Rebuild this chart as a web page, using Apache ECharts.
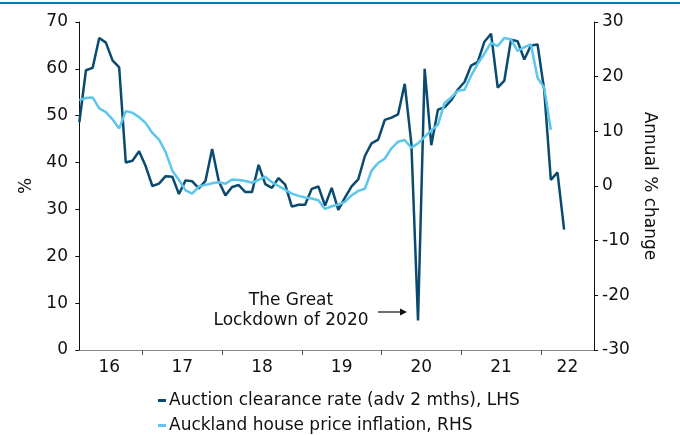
<!DOCTYPE html>
<html>
<head>
<meta charset="utf-8">
<style>
  html, body { margin: 0; padding: 0; background: #fff; }
  #chart { width: 680px; height: 435px; }
</style>
<script src="https://cdn.jsdelivr.net/npm/echarts@6/dist/echarts.min.js"></script>
</head>
<body>
<div id="chart"></div>
<script>
// monthly, first point = Mar 2016 (index 0)
const clearanceRate = [
  48.6, 59.7, 60.2, 66.6, 65.6, 61.8, 60.3, 40.0, 40.4, 42.4,
  39.2, 35.0, 35.5, 37.1, 37.0, 33.3, 36.2, 36.0, 34.5, 36.1,
  42.9, 36.0, 33.0, 34.8, 35.2, 33.7, 33.7, 39.5, 35.4, 34.6,
  36.7, 35.3, 30.6, 31.0, 31.0, 34.4, 34.9, 30.8, 34.6, 29.9,
  32.5, 34.9, 36.4, 41.4, 44.1, 44.9, 49.1, 49.6, 50.3, 56.8,
  44.0, 6.3, 60.0, 43.7, 51.3, 51.8, 53.3, 55.6, 57.2, 60.7,
  61.5, 65.8, 67.5, 56.0, 57.5, 66.2, 65.9, 62.0, 65.0, 65.2,
  55.5, 36.3, 37.9, 25.7
]
const housePriceInflation = [
  15.7, 16.1, 16.2, 14.2, 13.5, 12.2, 10.5, 13.7, 13.4, 12.6,
  11.5, 9.7, 8.5, 6.2, 2.8, 1.1, -0.8, -1.4, -0.1, 0.2,
  0.5, 0.7, 0.4, 1.2, 1.1, 0.9, 0.6, 1.1, 1.7, 0.7,
  0.0, -0.7, -1.4, -1.8, -2.1, -2.3, -2.6, -4.2, -3.7, -3.4,
  -2.9, -1.7, -0.9, -0.5, 2.8, 4.2, 5.0, 6.9, 8.1, 8.4,
  7.0, 7.8, 9.0, 10.2, 11.2, 15.2, 16.2, 17.4, 17.6, 20.2,
  22.4, 24.2, 26.2, 25.6, 27.1, 26.8, 24.7, 25.4, 25.9, 19.8,
  18.0, 10.3
]
const yearLabels = ['16', '17', '18', '19', '20', '21', '22']
// months from Mar 2016 where each January falls
const yearStarts = [9.5, 21.5, 33.5, 45.5, 57.5, 69.5]
const seriesNames = ['Auction clearance rate (adv 2 mths), LHS', 'Auckland house price inflation, RHS']

const xMin = -0.5
const xMax = 77.5
const font = 'DejaVu Sans'
const fontSize = 17

// year labels sit in the middle of each visible year
const edges = [xMin].concat(yearStarts, [xMax])
const labelPos = []
for (let i = 0; i < yearLabels.length; i++) {
  labelPos.push((edges[i] + edges[i + 1]) / 2)
}

const chart = echarts.init(document.getElementById('chart'))

function legendAt (name, top) {
  return {
    orient: 'vertical',
    left: 153,
    top: top,
    icon: 'rect',
    itemWidth: 8,
    itemHeight: 3,
    textStyle: { color: '#111', fontSize: fontSize, fontFamily: font, padding: [0, 0, 0, -2] },
    data: [name]
  }
}

const option = {
  animation: false,
  color: ['#0b4a6f', '#5cc6ec'],
  textStyle: { fontFamily: font },
  grid: { left: 76, right: 86, top: 22, bottom: 85 },
  legend: [legendAt(seriesNames[0], 387), legendAt(seriesNames[1], 412)],
  xAxis: {
    type: 'value',
    min: xMin,
    max: xMax,
    axisLine: { lineStyle: { color: '#888', width: 1 } },
    axisTick: { show: true, customValues: yearStarts, length: 5, lineStyle: { color: '#555' } },
    axisLabel: {
      customValues: labelPos,
      color: '#111',
      fontSize: fontSize,
      margin: 9,
      formatter: function (v) {
        const i = labelPos.findIndex(p => Math.abs(p - v) < 0.01)
        return i >= 0 ? yearLabels[i] : ''
      }
    },
    splitLine: { show: false }
  },
  yAxis: [{
    type: 'value',
    min: 0,
    max: 70,
    interval: 10,
    name: '%',
    nameLocation: 'middle',
    nameGap: 38,
    nameTextStyle: { color: '#111', fontSize: fontSize },
    axisLine: { show: true, lineStyle: { color: '#111' } },
    axisTick: { show: true, length: 4, lineStyle: { color: '#111' } },
    axisLabel: { color: '#111', fontSize: fontSize, margin: 8 },
    splitLine: { show: false }
  }, {
    type: 'value',
    min: -30,
    max: 30,
    interval: 10,
    name: 'Annual % change',
    nameLocation: 'middle',
    nameRotate: -90,
    nameGap: 46,
    nameTextStyle: { color: '#111', fontSize: fontSize },
    axisLine: { show: true, lineStyle: { color: '#111' } },
    axisTick: { show: true, length: 4, lineStyle: { color: '#111' } },
    axisLabel: { color: '#111', fontSize: fontSize, margin: 8 },
    splitLine: { show: false }
  }],
  series: [{
    name: seriesNames[0],
    type: 'line',
    yAxisIndex: 0,
    symbol: 'none',
    lineStyle: { width: 2.5 },
    data: clearanceRate.map((v, i) => [i, v]),
    z: 2
  }, {
    name: seriesNames[1],
    type: 'line',
    yAxisIndex: 1,
    symbol: 'none',
    lineStyle: { width: 2.5 },
    data: housePriceInflation.map((v, i) => [i, v]),
    z: 3
  }],
  graphic: [{
    type: 'rect',
    left: 0,
    top: 2,
    shape: { width: 680, height: 2 },
    style: { fill: '#0b76b8' }
  }, {
    type: 'text',
    x: 291,
    y: 291,
    style: {
      text: 'The Great\nLockdown of 2020',
      fill: '#111',
      font: fontSize + 'px DejaVu Sans',
      align: 'center',
      verticalAlign: 'top',
      lineHeight: 20
    }
  }, {
    type: 'line',
    shape: { x1: 378, y1: 312, x2: 401, y2: 312 },
    style: { stroke: '#111', lineWidth: 1.2 }
  }, {
    type: 'polygon',
    shape: { points: [[400, 308.5], [407, 312], [400, 315.5]] },
    style: { fill: '#111' }
  }]
}

chart.setOption(option)
</script>
</body>
</html>
